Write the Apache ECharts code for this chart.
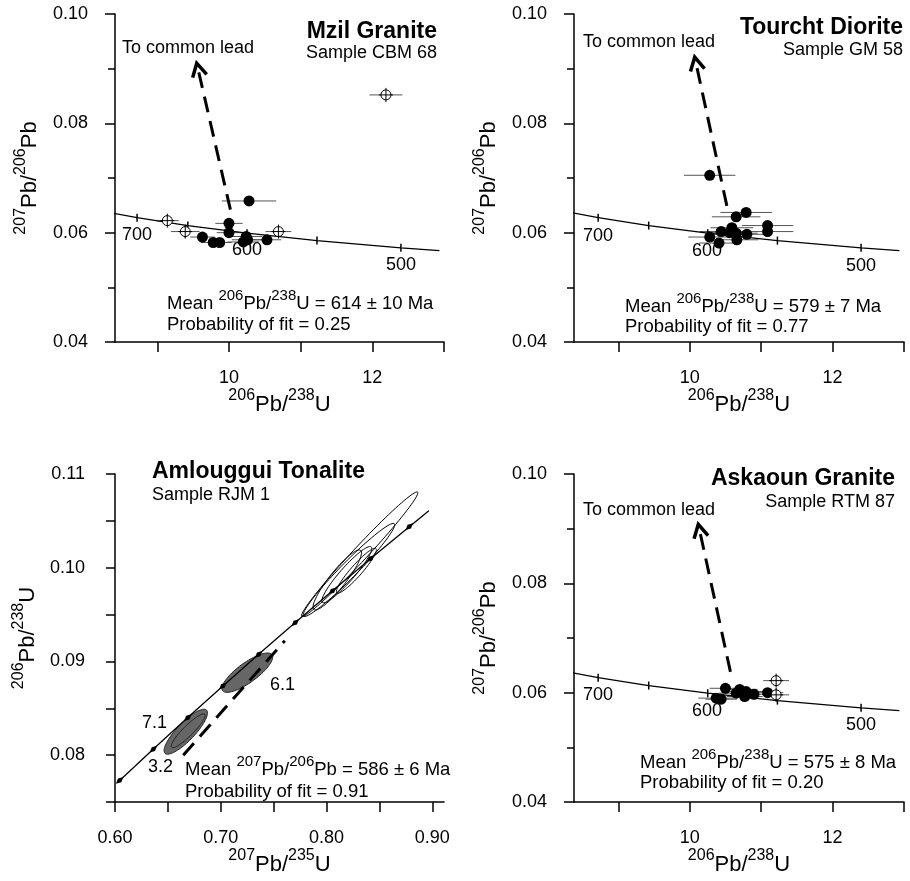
<!DOCTYPE html>
<html><head><meta charset="utf-8">
<script src="https://cdn.jsdelivr.net/npm/echarts@6/dist/echarts.min.js"></script>
<style>html,body{margin:0;padding:0;background:#fff}#c{width:910px;height:881px}</style>
</head><body><div id="c"></div>
<script>
// ---------- DATA ----------
// Tera-Wasserburg concordia (206Pb/238U, 207Pb/206Pb), ages 750..480 Ma
const twConcordia = [[8.105,0.06425],[8.718,0.06275],[9.426,0.0613],[10.252,0.0599],[11.228,0.05855],[12.399,0.05722],[12.936,0.0567]];
const twConcordiaTicks = [[8.718,0.06275],[9.426,0.0613],[10.252,0.0599],[11.228,0.05855],[12.399,0.05722]];
// Wetherill concordia (207Pb/235U, 206Pb/238U), ages 480..650 Ma
const wConcordia = [[0.6044,0.0773],[0.6363,0.08065],[0.6688,0.08401],[0.7020,0.08738],[0.7358,0.09076],[0.7704,0.09415],[0.8056,0.09754],[0.8415,0.10096],[0.8782,0.10438],[0.8967,0.10609]];
const wConcordiaTicks = [[0.6044,0.0773],[0.6363,0.08065],[0.6688,0.08401],[0.7020,0.08738],[0.7358,0.09076],[0.7704,0.09415],[0.8056,0.09754],[0.8415,0.10096],[0.8782,0.10438]];

// Mzil Granite: [x, y, xErr, yErr]
const mzilFilled = [[10.28,0.0658,0.38,0],[10.00,0.0617,0.19,0],[10.00,0.0600,0.17,0],[9.63,0.0592,0.17,0],[9.78,0.0582,0.17,0],[9.87,0.0582,0.17,0],[10.24,0.0593,0.22,0],[10.20,0.0583,0.22,0],[10.26,0.0587,0.22,0],[10.53,0.0587,0.2,0]];
const mzilOpen = [[9.14,0.0622,0.16,0.0009],[9.39,0.0602,0.2,0.0012],[10.69,0.0602,0.18,0.0008],[12.19,0.0852,0.23,0.0006]];
const mzilArrow = [[10.02,0.0642,9.55,0.0910]];

// Tourcht Diorite
const tourFilled = [[10.28,0.0705,0.36,0],[10.65,0.0629,0.34,0],[10.79,0.0637,0.36,0],[11.09,0.0613,0.36,0],[11.09,0.0602,0.36,0],[10.59,0.0609,0.3,0],[10.44,0.0602,0.3,0],[10.28,0.0592,0.3,0],[10.41,0.0581,0.28,0],[10.66,0.0587,0.3,0],[10.80,0.0597,0.3,0],[10.65,0.0599,0.3,0],[10.56,0.0600,0.3,0]];
const tourArrow = [[10.52,0.0649,10.07,0.0921]];

// Askaoun Granite
const askFilled = [[10.50,0.0608,0.22,0],[10.37,0.0590,0.25,0],[10.44,0.0588,0.22,0],[10.70,0.0606,0.25,0],[10.65,0.0599,0.25,0],[10.79,0.0602,0.25,0],[10.77,0.0593,0.25,0],[10.90,0.0597,0.25,0],[11.09,0.0600,0.22,0]];
const askOpen = [[11.21,0.0622,0.18,0.0008],[11.21,0.0596,0.18,0.0012]];
const askArrow = [[10.57,0.0638,10.12,0.0908]];

// Amlouggui Tonalite ellipses: [cx, cy, sx, sy, rho]
const amlShaded = [[0.6669,0.0825,0.0205,0.0024,0.84],[0.6692,0.0826,0.016,0.0018,0.91],[0.7251,0.0888,0.024,0.0021,0.80]];
const amlOpen = [[0.8313,0.10144,0.055,0.00665,0.986],[0.8211,0.09976,0.0433,0.00497,0.97],[0.8101,0.09869,0.0229,0.0032,0.906],[0.8282,0.09968,0.0189,0.0024,0.93],[0.8191,0.09926,0.0236,0.003,0.93]];
const amlDashed = [[0.6645,0.0800,0.7605,0.0922]];

const twXTicks = [9,10,11,12,13];
const twXLabels = [10,12];
const wXTicks = [0.60,0.65,0.70,0.75,0.80,0.85,0.90];
const wXLabels = [0.60,0.70,0.80,0.90];

// ---------- CHART ----------
const FONT = '"Liberation Sans", Arial, Helvetica, sans-serif';
const chart = echarts.init(document.getElementById('c'), null, {renderer:'canvas'});

const nameRich = {
  s:{fontSize:16, lineHeight:16, verticalAlign:'top', fontFamily:FONT, color:'#000'},
  m:{fontSize:22, lineHeight:28, verticalAlign:'bottom', fontFamily:FONT, color:'#000'}
};
const axLine = {show:true, onZero:false, lineStyle:{color:'#000', width:1.5}};
const lbl = {fontSize:18, color:'#000', fontFamily:FONT};

function xAx(gi, min, max, ticks, labels, name, dec){
  return {type:'value', gridIndex:gi, min, max, position:'bottom',
    axisLine:axLine,
    axisTick:{show:true, customValues:ticks, length:10, lineStyle:{color:'#000', width:1.5}},
    axisLabel:Object.assign({show:true, customValues:labels, margin:27, hideOverlap:false, formatter:v=>dec?v.toFixed(dec):String(v)}, lbl),
    splitLine:{show:false},
    name, nameLocation:'middle', nameGap:46, nameTextStyle:{rich:nameRich, fontFamily:FONT}};
}
function twY(gi, name){
  return {type:'value', gridIndex:gi, min:0.04, max:0.10, interval:0.02, position:'left',
    axisLine:axLine,
    axisTick:{show:true, length:10, lineStyle:{color:'#000', width:1.5}},
    minorTick:{show:true, splitNumber:2, length:7, lineStyle:{color:'#000', width:1.5}},
    axisLabel:Object.assign({show:true, margin:27, formatter:v=>v.toFixed(2)}, lbl),
    splitLine:{show:false}, minorSplitLine:{show:false},
    name, nameLocation:'middle', nameRotate:90, nameGap:74, nameTextStyle:{rich:nameRich, fontFamily:FONT}};
}
const nPbPb = '{s|207}{m|Pb/}{s|206}{m|Pb}';
const nPbU = '{s|206}{m|Pb/}{s|238}{m|U}';
const nPbU235 = '{s|207}{m|Pb/}{s|235}{m|U}';

function errRender(params, api){
  const x=api.value(0), y=api.value(1), ex=api.value(2), ey=api.value(3);
  const a=api.coord([x-ex,y]), b=api.coord([x+ex,y]);
  const ch=[{type:'line', shape:{x1:a[0],y1:a[1],x2:b[0],y2:b[1]}, style:{stroke:'#555', lineWidth:1}}];
  if(ey>0){
    const c=api.coord([x,y-ey]), d=api.coord([x,y+ey]);
    ch.push({type:'line', shape:{x1:c[0],y1:c[1],x2:d[0],y2:d[1]}, style:{stroke:'#555', lineWidth:1}});
  }
  return {type:'group', children:ch};
}
function openRender(params, api){
  const p=api.coord([api.value(0),api.value(1)]);
  return {type:'group', children:[
    {type:'circle', shape:{cx:p[0], cy:p[1], r:5}, style:{fill:'#fff', stroke:'#000', lineWidth:1}},
    {type:'line', shape:{x1:p[0]-7,y1:p[1],x2:p[0]+7,y2:p[1]}, style:{stroke:'#000', lineWidth:1}},
    {type:'line', shape:{x1:p[0],y1:p[1]-7,x2:p[0],y2:p[1]+7}, style:{stroke:'#000', lineWidth:1}}
  ]};
}
function arrowRender(head){
  return function(params, api){
    const a=api.coord([api.value(0),api.value(1)]), b=api.coord([api.value(2),api.value(3)]);
    const ch=[{type:'line', shape:{x1:a[0],y1:a[1],x2:b[0],y2:b[1]}, style:{stroke:'#000', lineWidth:3, lineDash:[16,9]}}];
    if(head){
      const dx=b[0]-a[0], dy=b[1]-a[1], L=Math.hypot(dx,dy), ux=dx/L, uy=dy/L, len=15, ang=0.5;
      const r=(t)=>[b[0]-len*(ux*Math.cos(t)-uy*Math.sin(t)), b[1]-len*(uy*Math.cos(t)+ux*Math.sin(t))];
      ch.push({type:'polyline', shape:{points:[r(ang), b, r(-ang)]}, style:{stroke:'#000', lineWidth:3.5, fill:null, lineJoin:'miter'}});
    }
    return {type:'group', children:ch};
  };
}
function ellipseRender(fill, stroke){
  return function(params, api){
    const cx=api.value(0), cy=api.value(1), sx=api.value(2), sy=api.value(3), rho=api.value(4);
    const pts=[]; const k=Math.sqrt(1-rho*rho);
    for(let i=0;i<=90;i++){ const t=i/90*Math.PI*2;
      pts.push(api.coord([cx+sx*Math.cos(t), cy+sy*(rho*Math.cos(t)+k*Math.sin(t))])); }
    return {type:'polygon', shape:{points:pts}, style:{fill, stroke, lineWidth:1}};
  };
}

const dot = {color:'#000', opacity:1, borderWidth:0};
function twSeries(gi, filled, open, arrow){
  const s=[
    {type:'custom', xAxisIndex:gi, yAxisIndex:gi, data:filled.concat(open||[]), renderItem:errRender, encode:{x:0,y:1}, z:2},
    {type:'line', xAxisIndex:gi, yAxisIndex:gi, data:twConcordia, showSymbol:false, lineStyle:{color:'#000', width:1.3}, z:3, silent:true},
    {type:'scatter', xAxisIndex:gi, yAxisIndex:gi, data:twConcordiaTicks, symbol:'rect', symbolSize:[1.5,8], itemStyle:dot, z:3},
    {type:'custom', xAxisIndex:gi, yAxisIndex:gi, data:arrow, renderItem:arrowRender(true), encode:{x:[0,2],y:[1,3]}, z:4},
    {type:'scatter', xAxisIndex:gi, yAxisIndex:gi, data:filled.map(d=>[d[0],d[1]]), symbol:'circle', symbolSize:11, itemStyle:dot, z:5}
  ];
  if(open) s.push({type:'custom', xAxisIndex:gi, yAxisIndex:gi, data:open, renderItem:openRender, encode:{x:0,y:1}, z:6});
  return s;
}

const series = [].concat(
  twSeries(0, mzilFilled, mzilOpen, mzilArrow),
  twSeries(1, tourFilled, null, tourArrow),
  twSeries(3, askFilled, askOpen, askArrow),
  [
    {type:'custom', xAxisIndex:2, yAxisIndex:2, data:amlOpen, renderItem:ellipseRender('none','#000'), encode:{x:0,y:1}, z:2},
    {type:'custom', xAxisIndex:2, yAxisIndex:2, data:amlShaded, renderItem:ellipseRender('#666','#222'), encode:{x:0,y:1}, z:2},
    {type:'line', xAxisIndex:2, yAxisIndex:2, data:wConcordia, showSymbol:false, lineStyle:{color:'#000', width:1.3}, z:3},
    {type:'scatter', xAxisIndex:2, yAxisIndex:2, data:wConcordiaTicks, symbol:'diamond', symbolSize:[5,10], symbolRotate:-48, itemStyle:dot, z:3},
    {type:'custom', xAxisIndex:2, yAxisIndex:2, data:amlDashed, renderItem:arrowRender(false), encode:{x:[0,2],y:[1,3]}, z:4}
  ]
);

function txt(x, y, text, o){
  return {type:'text', x, y, z:100, style:Object.assign({text, fill:'#000', font:'18px '+FONT, align:'left', verticalAlign:'middle'}, o||{})};
}
const tRich = {
  s:{fontSize:15, lineHeight:15, verticalAlign:'top', fontFamily:FONT, fill:'#000'},
  m:{fontSize:18.5, lineHeight:25, verticalAlign:'bottom', fontFamily:FONT, fill:'#000'}
};
function meanTxt(x, y, iso1, iso2, el, age){
  return txt(x, y-3, '{m|Mean }{s|'+iso1+'}{m|Pb/}{s|'+iso2+'}{m|'+el+' = '+age+' Ma}', {rich:tRich});
}
const bold = {font:'bold 23px '+FONT, align:'right'};
const graphics = [
  // Panel 1
  txt(122,48,'To common lead'),
  txt(437,32,'Mzil Granite',bold), txt(437,53,'Sample CBM 68',{align:'right'}),
  txt(122,235,'700'), txt(232,250,'600'), txt(386,265,'500'),
  meanTxt(167,304,'206','238','U','614 ± 10'), txt(167,325,'Probability of fit = 0.25',{font:'18.5px '+FONT}),
  // Panel 2
  txt(583,42,'To common lead'),
  txt(903,28,'Tourcht Diorite',bold), txt(903,50,'Sample GM 58',{align:'right'}),
  txt(583,236,'700'), txt(692,251,'600'), txt(846,266,'500'),
  meanTxt(625,307,'206','238','U','579 ± 7'), txt(625,327,'Probability of fit = 0.77',{font:'18.5px '+FONT}),
  // Panel 3
  txt(152,472,'Amlouggui Tonalite',{font:'bold 23px '+FONT}), txt(152,495,'Sample RJM 1'),
  txt(142,723,'7.1'), txt(148,767,'3.2'), txt(270,685,'6.1'),
  meanTxt(185,770,'207','206','Pb','586 ± 6'), txt(185,792,'Probability of fit = 0.91',{font:'18.5px '+FONT}),
  // Panel 4
  txt(583,510,'To common lead'),
  txt(895,479,'Askaoun Granite',bold), txt(895,502,'Sample RTM 87',{align:'right'}),
  txt(583,695,'700'), txt(692,711,'600'), txt(846,725,'500'),
  meanTxt(640,763,'206','238','U','575 ± 8'), txt(640,783,'Probability of fit = 0.20',{font:'18.5px '+FONT})
];

const option = {
  animation:false,
  backgroundColor:'#fff',
  grid:[
    {left:115, top:14, width:329, height:328},
    {left:574, top:14, width:330, height:328},
    {left:115, top:474, width:329, height:328},
    {left:574, top:474, width:330, height:328}
  ],
  xAxis:[
    xAx(0, 8.41, 13, twXTicks, twXLabels, nPbU, 0),
    xAx(1, 8.38, 13, twXTicks, twXLabels, nPbU, 0),
    xAx(2, 0.6, 0.911, wXTicks, wXLabels, nPbU235, 2),
    xAx(3, 8.38, 13, twXTicks, twXLabels, nPbU, 0)
  ],
  yAxis:[
    twY(0, nPbPb),
    twY(1, nPbPb),
    {type:'value', gridIndex:2, min:0.075, max:0.11, interval:0.005, position:'left',
      axisLine:axLine,
      axisTick:{show:true, length:9, lineStyle:{color:'#000', width:1.5}},
      axisLabel:Object.assign({show:true, margin:30, hideOverlap:false,
        formatter:v=>(Math.round(v*1000)%10===0 ? v.toFixed(2) : '')}, lbl),
      splitLine:{show:false},
      name:nPbU, nameLocation:'middle', nameRotate:90, nameGap:76, nameTextStyle:{rich:nameRich, fontFamily:FONT}},
    twY(3, nPbPb)
  ],
  series,
  graphic:graphics
};
chart.setOption(option);
</script></body></html>
